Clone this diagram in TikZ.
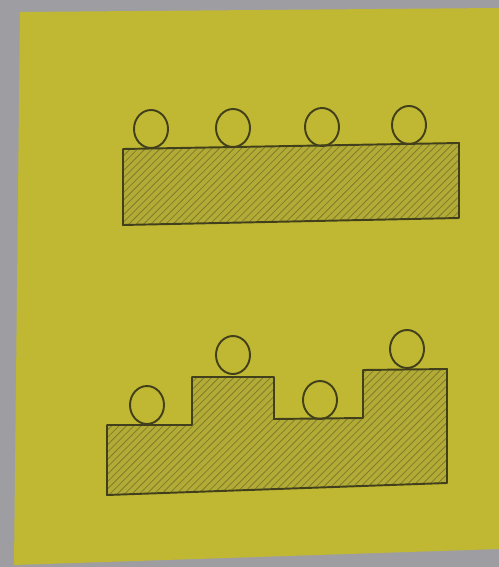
\documentclass[tikz,border=0pt]{standalone}
\usetikzlibrary{patterns}
\definecolor{rim}{RGB}{158,158,162}
\definecolor{card}{RGB}{192,184,50}
\definecolor{blockfill}{RGB}{178,172,54}
\definecolor{hatch}{RGB}{128,124,44}
\definecolor{ink}{RGB}{66,64,28}
\pgfdeclarepatternformonly[\hatchsep]{wide hatch}{\pgfqpoint{-1pt}{-1pt}}{\pgfqpoint{\hatchsep}{\hatchsep}}{\pgfqpoint{\hatchsep}{\hatchsep}}{
	\pgfsetlinewidth{0.45pt}
	\pgfpathmoveto{\pgfqpoint{0pt}{0pt}}
	\pgfpathlineto{\pgfqpoint{\hatchsep+0.1pt}{\hatchsep+0.1pt}}
	\pgfusepath{stroke}}
\newdimen\hatchsep
\hatchsep=4.2pt
\begin{document}
\begin{tikzpicture}[x=0.02cm, y=-0.02cm, line join=round, line cap=round]
	\tikzset{block/.style={draw=ink, line width=1.1pt, preaction={fill=blockfill}, pattern=wide hatch, pattern color=hatch},
		ball/.style={draw=ink, line width=1.1pt}}
	\useasboundingbox (0,0) rectangle (499,567);
	% photo rim and card
	\fill[rim] (0,0) rectangle (499,567);
	\fill[card] (20,12) -- (499,8) -- (499,549) -- (14,565) -- cycle;
	% flat surface
	\draw[block] (123,149) -- (459,143) -- (459,218) -- (123,225) -- cycle;
	\foreach \x/\y in {151/129, 233/128, 322/127, 409/125}
		\draw[ball] (\x,\y) ellipse (17 and 19);
	% stepped surface
	\draw[block] (107,425) -- (192,425) -- (192,377) -- (274,377) -- (274,419) -- (363,418)
		-- (363,370) -- (447,369) -- (447,483) -- (107,495) -- cycle;
	\foreach \x/\y in {147/405, 233/355, 320/400, 407/349}
		\draw[ball] (\x,\y) ellipse (17 and 19);
\end{tikzpicture}
\end{document}
